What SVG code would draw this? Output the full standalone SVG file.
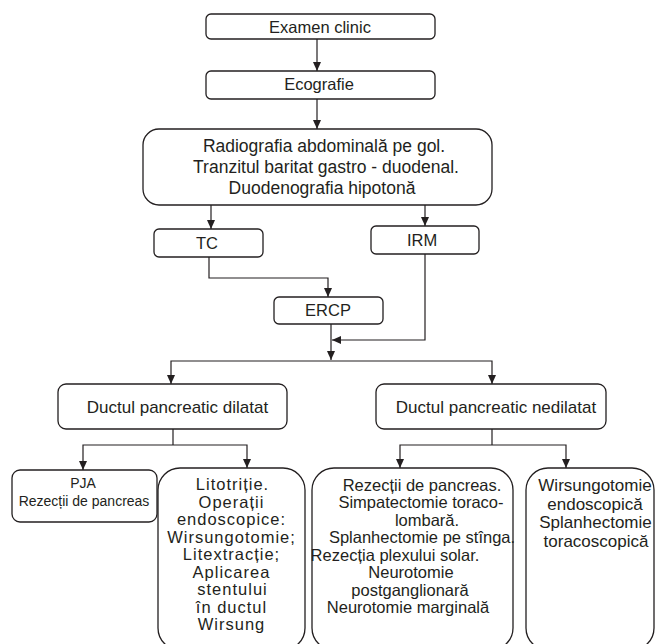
<svg xmlns="http://www.w3.org/2000/svg" width="655" height="644" viewBox="0 0 655 644">
<style>
.box{fill:#fff;stroke:#231f20;stroke-width:1.3}
.ln{fill:none;stroke:#231f20;stroke-width:1.2}
text{font-family:"Liberation Sans",Arial,sans-serif;fill:#231f20;text-anchor:middle}
.f17{font-size:17px}
.f175{font-size:17.5px}
.f165{font-size:16.5px}
.f20{font-size:16.5px;letter-spacing:1px}
.f14{font-size:14px}
</style>
<defs>
<marker id="ah" markerUnits="userSpaceOnUse" markerWidth="9" markerHeight="8" viewBox="0 0 9 8" refX="9" refY="4" orient="auto">
<path d="M0,0 L9,4 L0,8 z" fill="#231f20"/>
</marker>
</defs>
<rect width="655" height="644" fill="#fff"/>
<g id="connectors">
<path class="ln" marker-end="url(#ah)" d="M317,39 V71"/>
<path class="ln" marker-end="url(#ah)" d="M317,99 V129"/>
<path class="ln" marker-end="url(#ah)" d="M211,205 V229"/>
<path class="ln" marker-end="url(#ah)" d="M425,205 V226"/>
<path class="ln" marker-end="url(#ah)" d="M209,257 V278 H328 V297"/>
<path class="ln" marker-end="url(#ah)" d="M331,324 V360"/>
<path class="ln" marker-end="url(#ah)" d="M425,254 V340 H332"/>
<path class="ln" marker-end="url(#ah)" d="M331,361 H171 V384"/>
<path class="ln" marker-end="url(#ah)" d="M331,361 H492 V384"/>
<path class="ln" d="M173,429 V445"/>
<path class="ln" marker-end="url(#ah)" d="M173,445 H83 V470"/>
<path class="ln" marker-end="url(#ah)" d="M173,445 H247 V468"/>
<path class="ln" d="M492,429 V445"/>
<path class="ln" marker-end="url(#ah)" d="M492,445 H400 V468"/>
<path class="ln" marker-end="url(#ah)" d="M492,445 H566 V468"/>
</g>
<g id="examen">
<rect class="box" x="206" y="14" width="229" height="25" rx="5"/>
<text class="f165" x="320" y="33">Examen clinic</text>
</g>
<g id="ecografie">
<rect class="box" x="206" y="71" width="229" height="28" rx="5"/>
<text class="f165" x="319" y="90">Ecografie</text>
</g>
<g id="radiografia">
<rect class="box" x="143" y="129" width="349" height="76" rx="16"/>
<text class="f175" x="324" y="152">Radiografia abdominală pe gol.</text>
<text class="f175" x="326" y="173">Tranzitul baritat gastro - duodenal.</text>
<text class="f175" x="322" y="194">Duodenografia hipotonă</text>
</g>
<g id="tc">
<rect class="box" x="154" y="229" width="109" height="28" rx="5"/>
<text class="f165" x="207" y="249">TC</text>
</g>
<g id="irm">
<rect class="box" x="371" y="226" width="108" height="28" rx="5"/>
<text class="f165" x="422" y="246">IRM</text>
</g>
<g id="ercp">
<rect class="box" x="274" y="297" width="109" height="27" rx="5"/>
<text class="f165" x="328" y="316">ERCP</text>
</g>
<g id="dilatat">
<rect class="box" x="58" y="384" width="229" height="45" rx="8"/>
<text class="f17" x="177.5" y="413">Ductul pancreatic dilatat</text>
</g>
<g id="nedilatat">
<rect class="box" x="376" y="384" width="230" height="45" rx="8"/>
<text class="f17" x="496" y="413">Ductul pancreatic nedilatat</text>
</g>
<g id="pja">
<rect class="box" x="12" y="470" width="145" height="52" rx="8"/>
<text class="f14" x="83" y="488">PJA</text>
<text class="f14" x="84" y="506">Rezecții de pancreas</text>
</g>
<g id="litotritie">
<rect class="box" x="158" y="468" width="147" height="182" rx="22"/>
<text class="f20" x="232.5" y="490">Litotriție.</text>
<text class="f20" x="231.5" y="507.5">Operații</text>
<text class="f20" x="231.5" y="525">endoscopice:</text>
<text class="f20" x="231.5" y="542.5">Wirsungotomie;</text>
<text class="f20" x="231.5" y="560">Litextracție;</text>
<text class="f20" x="231.5" y="577.5">Aplicarea</text>
<text class="f20" x="232.5" y="595">stentului</text>
<text class="f20" x="231.5" y="612.5">în ductul</text>
<text class="f20" x="231.5" y="630">Wirsung</text>
</g>
<g id="rezectii">
<rect class="box" x="312" y="468" width="201" height="182" rx="22"/>
<text class="f165" x="422" y="490.5">Rezecții de pancreas.</text>
<text class="f165" x="421" y="508">Simpatectomie toraco-</text>
<text class="f165" x="427" y="525.5">lombară.</text>
<text class="f165" x="422" y="543">Splanhectomie pe stînga.</text>
<text class="f165" x="395" y="560.5">Rezecția plexului solar.</text>
<text class="f165" x="411" y="578">Neurotomie</text>
<text class="f165" x="410" y="595.5">postganglionară</text>
<text class="f165" x="408" y="613">Neurotomie marginală</text>
</g>
<g id="wirsungotomie">
<rect class="box" x="526" y="468" width="128" height="182" rx="22"/>
<text class="f17" x="595" y="491">Wirsungotomie</text>
<text class="f17" x="595" y="509.5">endoscopică</text>
<text class="f17" x="595.5" y="528">Splanhectomie</text>
<text class="f17" x="596" y="546.5">toracoscopică</text>
</g>
</svg>
